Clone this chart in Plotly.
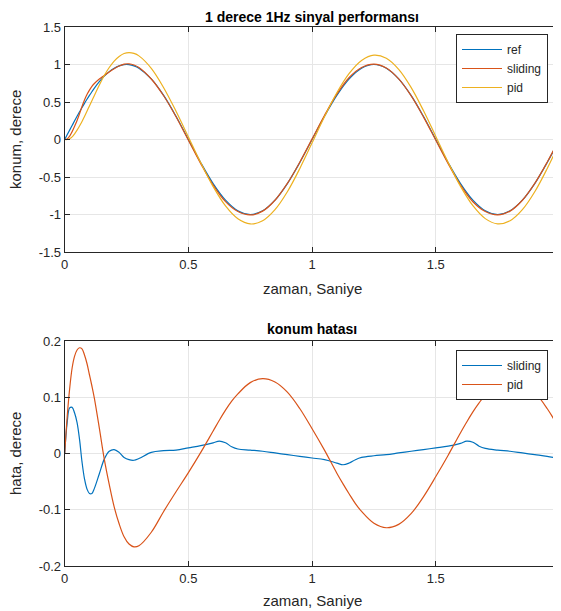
import plotly.graph_objects as go

# time samples for the position plot (s)
t = [0, 0.01, 0.02, 0.03, 0.04, 0.05, 0.06, 0.07, 0.08, 0.09, 0.10, 0.11, 0.12,
     0.14, 0.16, 0.18, 0.20, 0.22, 0.24, 0.26, 0.28, 0.30,
     0.35, 0.40, 0.45, 0.50, 0.55, 0.60, 0.65, 0.70, 0.75, 0.80, 0.85, 0.90, 0.95, 1.00,
     1.05, 1.10, 1.15, 1.20, 1.25, 1.30, 1.35, 1.40, 1.45, 1.50,
     1.55, 1.60, 1.65, 1.70, 1.75, 1.80, 1.85, 1.90, 1.95, 2.00]

# position (degrees)
ref = [0.000, 0.063, 0.125, 0.187, 0.249, 0.309, 0.368, 0.426, 0.482, 0.536, 0.588, 0.637, 0.685,
       0.771, 0.844, 0.905, 0.951, 0.982, 0.998, 0.998, 0.982, 0.951,
       0.809, 0.588, 0.309, 0.000, -0.309, -0.588, -0.809, -0.951, -1.000, -0.951, -0.809, -0.588, -0.309, 0.000,
       0.309, 0.588, 0.809, 0.951, 1.000, 0.951, 0.809, 0.588, 0.309, 0.000,
       -0.309, -0.588, -0.809, -0.951, -1.000, -0.951, -0.809, -0.588, -0.309, 0.000]
sliding = [0.000, 0.008, 0.044, 0.105, 0.177, 0.254, 0.343, 0.441, 0.527, 0.599, 0.659, 0.708, 0.747,
           0.807, 0.854, 0.901, 0.944, 0.980, 1.005, 1.009, 0.994, 0.960,
           0.807, 0.583, 0.304, -0.009, -0.322, -0.608, -0.829, -0.961, -1.006, -0.955, -0.810, -0.586, -0.304, 0.008,
           0.320, 0.605, 0.827, 0.960, 1.005, 0.954, 0.808, 0.584, 0.302, -0.010,
           -0.322, -0.607, -0.830, -0.961, -1.006, -0.955, -0.810, -0.586, -0.304, 0.009]
pid = [0.000, 0.000, 0.010, 0.035, 0.076, 0.125, 0.180, 0.240, 0.307, 0.376, 0.448, 0.517, 0.587,
       0.726, 0.854, 0.960, 1.046, 1.107, 1.146, 1.159, 1.148, 1.115,
       0.949, 0.691, 0.377, 0.034, -0.311, -0.628, -0.886, -1.057, -1.126, -1.084, -0.936, -0.697, -0.389, -0.044,
       0.303, 0.623, 0.881, 1.054, 1.124, 1.083, 0.935, 0.695, 0.386, 0.041,
       -0.306, -0.625, -0.883, -1.055, -1.125, -1.084, -0.936, -0.697, -0.389, -0.044]

# time samples for the error plot (s)
t_err = [0, 0.01, 0.02, 0.03, 0.04, 0.05, 0.06, 0.07, 0.08, 0.09, 0.10, 0.11, 0.12,
         0.14, 0.16, 0.18, 0.20, 0.22, 0.24, 0.26, 0.28, 0.30,
         0.35, 0.40, 0.45, 0.50, 0.55, 0.60, 0.625, 0.65, 0.675, 0.70, 0.75, 0.80, 0.85, 0.90, 0.95, 1.00,
         1.05, 1.10, 1.125, 1.15, 1.175, 1.20, 1.25, 1.30, 1.35, 1.40, 1.45, 1.50,
         1.55, 1.60, 1.625, 1.65, 1.675, 1.70, 1.75, 1.80, 1.85, 1.90, 1.95, 2.00]

# position error (degrees)
err_sliding = [0.000, 0.055, 0.081, 0.082, 0.072, 0.055, 0.025, -0.015, -0.045, -0.063, -0.071, -0.071, -0.062,
               -0.036, -0.010, 0.004, 0.007, 0.002, -0.007, -0.011, -0.012, -0.009,
               0.002, 0.005, 0.006, 0.010, 0.014, 0.019, 0.022, 0.019, 0.012, 0.008, 0.006, 0.004, 0.001, -0.002, -0.005, -0.008,
               -0.011, -0.017, -0.020, -0.017, -0.011, -0.007, -0.004, -0.002, 0.001, 0.004, 0.007, 0.010,
               0.013, 0.018, 0.022, 0.020, 0.013, 0.009, 0.006, 0.004, 0.001, -0.002, -0.005, -0.009]
err_pid = [0.000, 0.065, 0.115, 0.152, 0.173, 0.184, 0.188, 0.186, 0.175, 0.160, 0.140, 0.120, 0.098,
           0.045, -0.010, -0.055, -0.095, -0.125, -0.148, -0.161, -0.166, -0.164,
           -0.140, -0.103, -0.068, -0.034, 0.002, 0.040, 0.059, 0.077, 0.093, 0.106, 0.126, 0.133, 0.127, 0.109, 0.080, 0.044,
           0.006, -0.035, -0.054, -0.072, -0.089, -0.103, -0.124, -0.132, -0.126, -0.107, -0.077, -0.041,
           -0.003, 0.037, 0.056, 0.074, 0.090, 0.104, 0.125, 0.133, 0.127, 0.109, 0.080, 0.044]

x_ticks = [0, 0.5, 1, 1.5, 2]
x_labels = ["0", "0.5", "1", "1.5", "2"]
y1_ticks = [-1.5, -1, -0.5, 0, 0.5, 1, 1.5]
y1_labels = ["-1.5", "-1", "-0.5", "0", "0.5", "1", "1.5"]
y2_ticks = [-0.2, -0.1, 0, 0.1, 0.2]
y2_labels = ["-0.2", "-0.1", "0", "0.1", "0.2"]

BLUE = "#0072BD"
ORANGE = "#D95319"
YELLOW = "#EDB120"
AX = "#262626"
GRID = "#e6e6e6"
FONT = "Liberation Sans, Arial, sans-serif"

W, H = 561, 611
OFF = 8  # page offset of the figure (body margin)


def fx(px):
    return (px - OFF) / W


def fy(py):
    return (H - (py - OFF)) / H


fig = go.Figure()
lw = 1.2
fig.add_trace(go.Scatter(x=t, y=ref, name="ref", mode="lines", line=dict(color=BLUE, width=lw, shape="spline"),
                         xaxis="x", yaxis="y", legend="legend"))
fig.add_trace(go.Scatter(x=t, y=sliding, name="sliding", mode="lines", line=dict(color=ORANGE, width=lw, shape="spline"),
                         xaxis="x", yaxis="y", legend="legend"))
fig.add_trace(go.Scatter(x=t, y=pid, name="pid", mode="lines", line=dict(color=YELLOW, width=lw, shape="spline"),
                         xaxis="x", yaxis="y", legend="legend"))
fig.add_trace(go.Scatter(x=t_err, y=err_sliding, name="sliding", mode="lines",
                         line=dict(color=BLUE, width=lw, shape="spline"),
                         xaxis="x2", yaxis="y2", legend="legend2"))
fig.add_trace(go.Scatter(x=t_err, y=err_pid, name="pid", mode="lines",
                         line=dict(color=ORANGE, width=lw, shape="spline"),
                         xaxis="x2", yaxis="y2", legend="legend2"))

xd = [fx(64.7), fx(559.5)]
y1d = [fy(252), fy(27)]
y2d = [fy(566), fy(341)]
xmid = (xd[0] + xd[1]) / 2

axis_common = dict(showline=True, mirror="ticks", linecolor=AX, linewidth=1, ticks="inside", ticklen=5,
                   tickcolor=AX, showgrid=True, gridcolor=GRID, gridwidth=1, zeroline=False,
                   automargin=False, tickfont=dict(family=FONT, size=13, color=AX))
title_font = dict(family=FONT, size=15, color=AX)
legend_common = dict(xanchor="right", yanchor="top", bgcolor="white", bordercolor=AX, borderwidth=1,
                     font=dict(family=FONT, size=12, color=AX), tracegroupgap=0, itemwidth=40)


def ann(text, x, y, font, angle=0):
    return dict(text=text, x=x, y=y, xref="paper", yref="paper", xanchor="center", yanchor="middle",
                showarrow=False, textangle=angle, font=font)


fig.update_layout(
    width=W, height=H, margin=dict(l=0, r=0, t=0, b=0, autoexpand=False),
    paper_bgcolor="white", plot_bgcolor="white",
    font=dict(family=FONT, color=AX),
    xaxis=dict(domain=xd, range=[0, 2], tickvals=x_ticks, ticktext=x_labels, anchor="y", **axis_common),
    yaxis=dict(domain=y1d, range=[-1.5, 1.5], tickvals=y1_ticks, ticktext=y1_labels, anchor="x", **axis_common),
    xaxis2=dict(domain=xd, range=[0, 2], tickvals=x_ticks, ticktext=x_labels, anchor="y2", **axis_common),
    yaxis2=dict(domain=y2d, range=[-0.2, 0.2], tickvals=y2_ticks, ticktext=y2_labels, anchor="x2", **axis_common),
    legend=dict(x=fx(548), y=fy(34), **legend_common),
    legend2=dict(x=fx(548), y=fy(350), **legend_common),
    annotations=[
        ann("<b>1 derece 1Hz sinyal performansı</b>", xmid, fy(17), dict(family=FONT, size=14, color="black")),
        ann("<b>konum hatası</b>", xmid, fy(329), dict(family=FONT, size=14, color="black")),
        ann("zaman, Saniye", xmid, fy(288), title_font),
        ann("zaman, Saniye", xmid, fy(600), title_font),
        ann("konum, derece", fx(15), fy(140), title_font, -90),
        ann("hata, derece", fx(15), fy(454), title_font, -90),
    ],
)

fig.write_html("out.html")
